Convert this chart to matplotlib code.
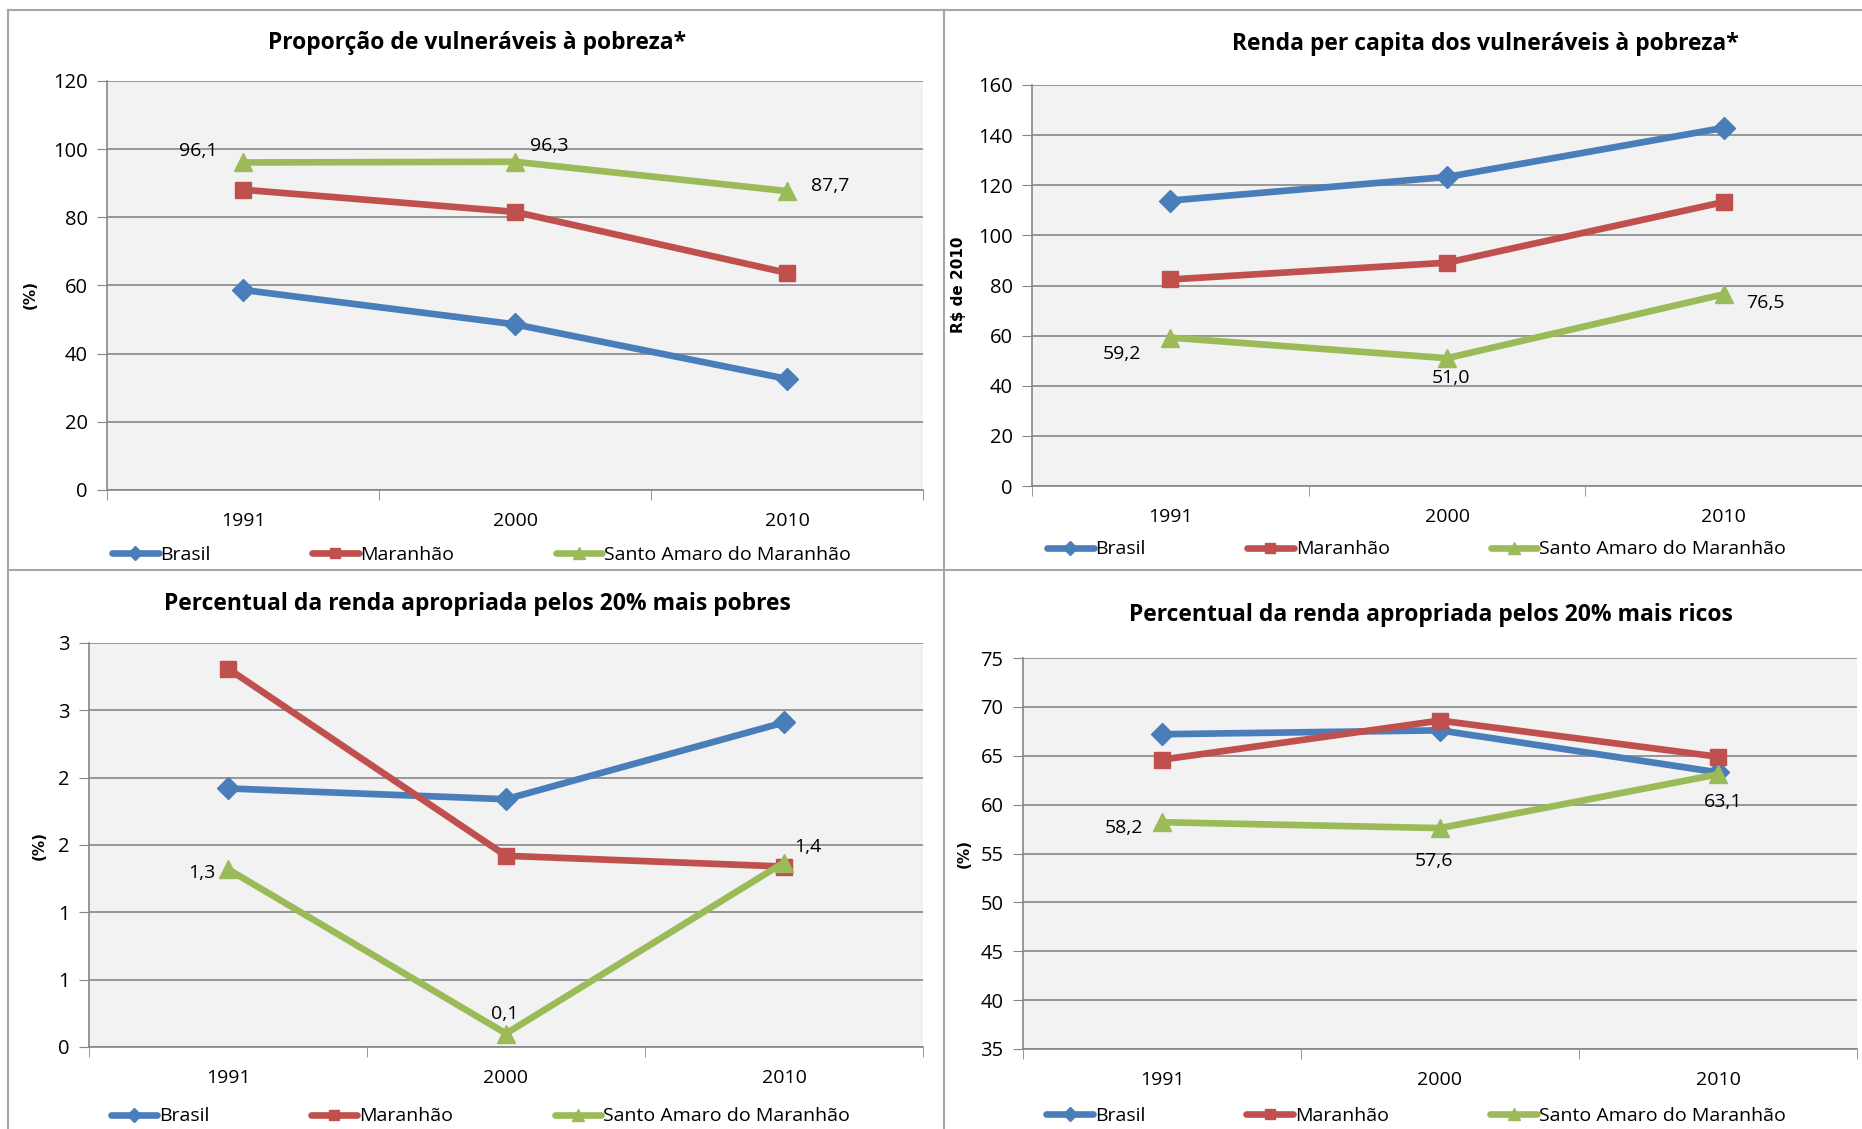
import matplotlib.pyplot as plt
from matplotlib.axes import Axes
from matplotlib.lines import Line2D

anos = ['1991', '2000', '2010']
series = ['Brasil', 'Maranhão', 'Santo Amaro do Maranhão']

vulneraveis_brasil = [58.7, 48.6, 32.6]
vulneraveis_maranhao = [88.1, 81.6, 63.7]
vulneraveis_santo_amaro = [96.1, 96.3, 87.7]

renda_brasil = [113.9, 123.3, 142.9]
renda_maranhao = [82.4, 89.1, 113.3]
renda_santo_amaro = [59.2, 51.0, 76.5]

pobres_brasil = [1.92, 1.84, 2.41]
pobres_maranhao = [2.81, 1.42, 1.34]
pobres_santo_amaro = [1.32, 0.10, 1.37]
pobres_yticklabels = ['0', '1', '1', '2', '2', '3', '3']

ricos_brasil = [67.2, 67.6, 63.3]
ricos_maranhao = [64.6, 68.6, 64.9]
ricos_santo_amaro = [58.2, 57.6, 63.1]

COLORS = ['#4A7EBB', '#C0504D', '#9BBB59']
MARKERS = [('D', 11), ('s', 12), ('^', 13)]
GRID = '#868686'
FONT = ['Liberation Sans Narrow', 'Open Sans', 'DejaVu Sans']
W, H = 1862, 1129

plt.rcParams['font.family'] = FONT


def px_rect(left, top, right, bottom):
    return [left / W, 1 - bottom / H, (right - left) / W, (bottom - top) / H]


def plot_panel(ax: Axes, data, ylim, ystep, labels_offsets, legend_xy, yticklabels=None):
    ax.set_facecolor('#F2F2F2')
    x = list(range(len(anos)))
    for values, color, (marker, ms), name in zip(data, COLORS, MARKERS, series):
        ax.plot(x, values, color=color, lw=4.8, marker=marker, ms=ms, label=name,
                solid_capstyle='round', zorder=3)
    santo = data[2]
    for i, (dx, dy) in enumerate(labels_offsets):
        ax.annotate(f'{santo[i]:.1f}'.replace('.', ','), (x[i], santo[i]),
                    xytext=(dx, dy), textcoords='offset points',
                    ha='center', va='center', fontsize=14, zorder=4)
    ax.set_xlim(-0.5, len(anos) - 0.5)
    ax.set_ylim(*ylim)
    ticks = [ylim[0] + ystep * k for k in range(int(round((ylim[1] - ylim[0]) / ystep)) + 1)]
    ax.set_yticks(ticks)
    if yticklabels:
        ax.set_yticklabels(yticklabels)
    ax.set_xticks(x)
    ax.set_xticklabels(anos)
    ax.set_xticks([k - 0.5 for k in range(len(anos) + 1)], minor=True)
    ax.tick_params(axis='x', which='major', length=0, pad=16, labelsize=14)
    ax.tick_params(axis='x', which='minor', length=7, color=GRID, direction='out')
    ax.tick_params(axis='y', length=7, color=GRID, direction='out', labelsize=14.5, pad=7)
    ax.grid(axis='y', color=GRID, lw=1.2, zorder=1)
    ax.set_axisbelow(True)
    for side in ['top', 'right']:
        ax.spines[side].set_visible(False)
    for side in ['left', 'bottom']:
        ax.spines[side].set_color(GRID)
        ax.spines[side].set_linewidth(1.2)
    ax.legend(loc='center left', bbox_to_anchor=legend_xy, ncol=3, frameon=False,
              fontsize=14, handlelength=2.4, handletextpad=0.1, columnspacing=5.2,
              borderpad=0, borderaxespad=0, markerscale=0.65)


fig = plt.figure(figsize=(W / 100, H / 100), dpi=100)

ax1 = fig.add_axes(px_rect(107, 81, 923, 490))
plot_panel(ax1, [vulneraveis_brasil, vulneraveis_maranhao, vulneraveis_santo_amaro],
           (0, 120), 20, [(-32, 8), (25, 11), (31, 4)], (0.006, -0.158))

ax2 = fig.add_axes(px_rect(1032, 85, 1862, 486))
plot_panel(ax2, [renda_brasil, renda_maranhao, renda_santo_amaro],
           (0, 160), 20, [(-35, -12), (3, -14), (30, -6)], (0.018, -0.158))

ax3 = fig.add_axes(px_rect(89, 643, 923, 1047))
plot_panel(ax3, [pobres_brasil, pobres_maranhao, pobres_santo_amaro],
           (0, 3), 0.5, [(-19, -3), (-1, 14), (17, 11)], (0.026, -0.172),
           yticklabels=pobres_yticklabels)

ax4 = fig.add_axes(px_rect(1023, 658, 1857, 1049))
plot_panel(ax4, [ricos_brasil, ricos_maranhao, ricos_santo_amaro],
           (35, 75), 5, [(-27, -4), (-4, -24), (4, -20)], (0.028, -0.172))

titles = [
    ('Proporção de vulneráveis à pobreza*', 477, 43),
    ('Renda per capita dos vulneráveis à pobreza*', 1485, 44),
    ('Percentual da renda apropriada pelos 20% mais pobres', 477, 604),
    ('Percentual da renda apropriada pelos 20% mais ricos', 1431, 615),
]
for text, tx, ty in titles:
    fig.text(tx / W, 1 - ty / H, text, ha='center', va='center', fontsize=16.5, fontweight='bold')

ylabels = [('(%)', 30, 295), ('R$ de 2010', 959, 285), ('(%)', 39, 846), ('(%)', 964, 853)]
for text, tx, ty in ylabels:
    fig.text(tx / W, 1 - ty / H, text, ha='center', va='center', rotation=90,
             fontsize=11, fontweight='bold', family='DejaVu Sans')

# bordas dos quadros
border = dict(color='#A6A6A6', lw=1.5, transform=fig.transFigure)
fig.add_artist(Line2D([8 / W, 1], [1 - 10 / H, 1 - 10 / H], **border))
fig.add_artist(Line2D([8 / W, 8 / W], [0, 1 - 10 / H], **border))
fig.add_artist(Line2D([944 / W, 944 / W], [0, 1 - 10 / H], **border))
fig.add_artist(Line2D([8 / W, 1], [1 - 570 / H, 1 - 570 / H], **border))

fig.savefig('out.png', dpi=100)
